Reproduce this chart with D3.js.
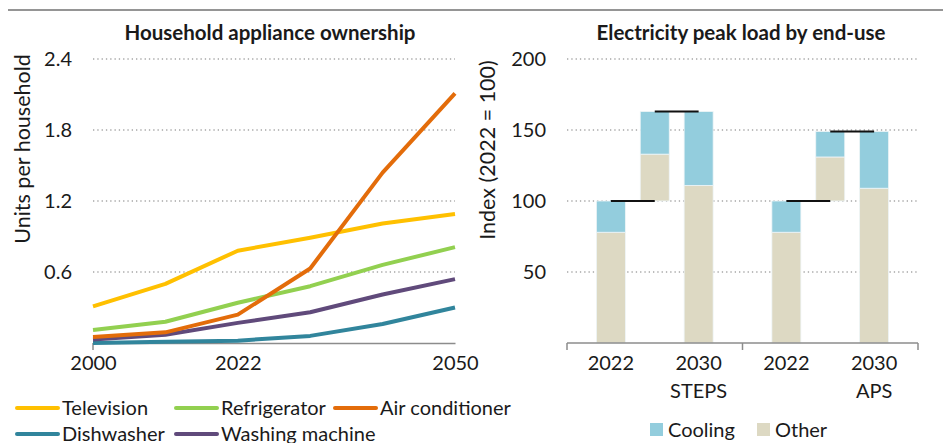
<!DOCTYPE html>
<html>
<head>
<meta charset="utf-8">
<script src="https://cdn.jsdelivr.net/npm/d3@7"></script>
<style>
  html, body { margin: 0; padding: 0; background: #fff; }
  svg { display: block; font-family: Lato, "Noto Sans", sans-serif; }
</style>
</head>
<body>
<svg id="chart" width="943" height="443"></svg>
<script>
// ---- Household appliance ownership (units per household) ----
const years = ["2000", "2010", "2022", "2030", "2040", "2050"];
const yearLabels = ["2000", "2022", "2050"];
const ownershipTicks = [0.6, 1.2, 1.8, 2.4];

const television     = [0.31, 0.50, 0.78, 0.89, 1.01, 1.09];
const refrigerator   = [0.11, 0.18, 0.34, 0.48, 0.66, 0.81];
const airConditioner = [0.05, 0.09, 0.24, 0.63, 1.44, 2.11];
const dishwasher     = [0.00, 0.01, 0.02, 0.06, 0.16, 0.30];
const washingMachine = [0.03, 0.07, 0.17, 0.26, 0.41, 0.54];

const applianceNames  = ["Television", "Refrigerator", "Air conditioner", "Dishwasher", "Washing machine"];
const applianceValues = [television, refrigerator, airConditioner, dishwasher, washingMachine];
const applianceColors = ["#FFC000", "#92D050", "#E36C0A", "#31859C", "#604A7B"];

// ---- Electricity peak load by end-use (index, 2022 = 100) ----
const scenarios = ["STEPS", "APS"];
const peakTicks = [50, 100, 150, 200];
const other2022   = [78, 78];
const cooling2022 = [22, 22];
const other2030   = [111, 109];
const cooling2030 = [52, 40];
const endUses = ["Cooling", "Other"];
const endUseColors = { Cooling: "#93CDDD", Other: "#DDD9C3" };

const svg = d3.select("#chart");
const gridColor = "#a6a6a6";
const axisColor = "#8c8c8c";
const textColor = "#1a1a1a";
const fontFamily = "Lato, 'Noto Sans', sans-serif";
const labelSize = 20;
const titleSize = 20.5;
const axisTitleSize = 21.5;

// frame rule across the top
svg.append("line")
  .attr("x1", 8).attr("x2", 943).attr("y1", 10).attr("y2", 10)
  .attr("stroke", "#959595").attr("stroke-width", 2);

// ================= Left panel =================
const L = { left: 93, right: 455, top: 59, bottom: 343 };
const xL = d3.scalePoint().domain(years).range([L.left, L.right]);
const yL = d3.scaleLinear().domain([0, 2.4]).range([L.bottom, L.top]);

const left = svg.append("g");

left.append("text")
  .attr("x", 270).attr("y", 40).attr("text-anchor", "middle")
  .attr("font-weight", "bold").attr("font-size", titleSize).attr("fill", textColor)
  .text("Household appliance ownership");

// gridlines
left.append("g").selectAll("line").data(ownershipTicks).join("line")
  .attr("x1", L.left).attr("x2", L.right)
  .attr("y1", d => yL(d)).attr("y2", d => yL(d))
  .attr("stroke", gridColor).attr("stroke-width", 1.5)
  .attr("stroke-dasharray", "1.3 3");

// y axis labels
left.append("g").attr("transform", `translate(${L.left},0)`)
  .call(d3.axisLeft(yL).tickValues(ownershipTicks).tickFormat(d3.format(".1f")).tickSize(0).tickPadding(0))
  .call(g => {
    g.select(".domain").remove();
    g.selectAll("text").attr("x", 72 - L.left).attr("font-size", labelSize).attr("fill", textColor)
      .attr("font-family", fontFamily);
  });

left.append("text")
  .attr("transform", `translate(30,149) rotate(-90)`)
  .attr("text-anchor", "middle").attr("font-size", axisTitleSize).attr("fill", textColor)
  .text("Units per household");

// x axis
left.append("g").attr("transform", `translate(0,${L.bottom})`)
  .call(d3.axisBottom(xL).tickValues(yearLabels).tickSize(0).tickPadding(13))
  .call(g => {
    g.select(".domain").attr("stroke", axisColor).attr("stroke-width", 1.5);
    g.selectAll("text").attr("font-size", labelSize).attr("fill", textColor)
      .attr("font-family", fontFamily);
  });
left.append("line")
  .attr("x1", xL("2000")).attr("x2", xL("2000"))
  .attr("y1", L.bottom).attr("y2", L.bottom + 7)
  .attr("stroke", axisColor).attr("stroke-width", 1.5);

// lines
const lineGen = d3.line().x((d, i) => xL(years[i])).y(d => yL(d));
const drawOrder = [3, 4, 1, 0, 2];
left.append("g").selectAll("path").data(drawOrder).join("path")
  .attr("d", k => lineGen(applianceValues[k]))
  .attr("fill", "none")
  .attr("stroke", k => applianceColors[k])
  .attr("stroke-width", 4)
  .attr("stroke-linejoin", "round");

// legend
const legendPos = [
  { x: 17, y: 408 }, { x: 176, y: 408 }, { x: 335, y: 408 },
  { x: 17, y: 434 }, { x: 176, y: 434 }
];
const legL = left.append("g").selectAll("g").data(applianceNames).join("g")
  .attr("transform", (d, i) => `translate(${legendPos[i].x},${legendPos[i].y})`);
legL.append("line")
  .attr("x1", 0).attr("x2", 41).attr("y1", 0).attr("y2", 0)
  .attr("stroke", (d, i) => applianceColors[i]).attr("stroke-width", 4)
  .attr("stroke-linecap", "round");
legL.append("text")
  .attr("x", 45).attr("y", 7).attr("font-size", labelSize).attr("fill", textColor)
  .text(d => d);

// ================= Right panel =================
const R = { left: 567, right: 918, top: 59, bottom: 343 };
const xGroup = d3.scaleBand().domain(scenarios).range([R.left, R.right]);
const barSlots = ["2022", "change", "2030"];
const xSlot = d3.scalePoint().domain(barSlots).range([0, xGroup.bandwidth()]).padding(1);
const barW = 29;
const yR = d3.scaleLinear().domain([0, 200]).range([R.bottom, R.top]);

const right = svg.append("g");

right.append("text")
  .attr("x", 741).attr("y", 40).attr("text-anchor", "middle")
  .attr("font-weight", "bold").attr("font-size", titleSize).attr("fill", textColor)
  .text("Electricity peak load by end-use");

right.append("g").selectAll("line").data(peakTicks).join("line")
  .attr("x1", R.left).attr("x2", R.right)
  .attr("y1", d => yR(d)).attr("y2", d => yR(d))
  .attr("stroke", gridColor).attr("stroke-width", 1.5)
  .attr("stroke-dasharray", "1.3 3");

right.append("g").attr("transform", `translate(${R.left},0)`)
  .call(d3.axisLeft(yR).tickValues(peakTicks).tickSize(0).tickPadding(0))
  .call(g => {
    g.select(".domain").remove();
    g.selectAll("text").attr("x", 546 - R.left).attr("font-size", labelSize).attr("fill", textColor)
      .attr("font-family", fontFamily);
  });

right.append("text")
  .attr("transform", `translate(495,150) rotate(-90)`)
  .attr("text-anchor", "middle").attr("font-size", axisTitleSize).attr("fill", textColor)
  .text("Index (2022 = 100)");

// bar segments per scenario: 2022 stack, change from 2022, 2030 stack
const segments = [];
scenarios.forEach((s, i) => {
  const dOther = other2030[i] - other2022[i];
  const dCool = cooling2030[i] - cooling2022[i];
  const base = other2022[i] + cooling2022[i];
  segments.push({ s, slot: "2022", use: "Other", y0: 0, y1: other2022[i] });
  segments.push({ s, slot: "2022", use: "Cooling", y0: other2022[i], y1: base });
  segments.push({ s, slot: "change", use: "Other", y0: base, y1: base + dOther });
  segments.push({ s, slot: "change", use: "Cooling", y0: base + dOther, y1: base + dOther + dCool });
  segments.push({ s, slot: "2030", use: "Other", y0: 0, y1: other2030[i] });
  segments.push({ s, slot: "2030", use: "Cooling", y0: other2030[i], y1: other2030[i] + cooling2030[i] });
});
const cx = (s, slot) => xGroup(s) + xSlot(slot);

right.append("g").selectAll("rect").data(segments).join("rect")
  .attr("x", d => cx(d.s, d.slot) - barW / 2)
  .attr("width", barW)
  .attr("y", d => yR(d.y1))
  .attr("height", d => yR(d.y0) - yR(d.y1))
  .attr("fill", d => endUseColors[d.use])
  .attr("stroke", "#eef5f7").attr("stroke-width", 0.8);

// connector lines between consecutive bar tops
const connectors = [];
scenarios.forEach((s, i) => {
  const base = other2022[i] + cooling2022[i];
  const total = other2030[i] + cooling2030[i];
  connectors.push({ s, from: "2022", to: "change", v: base });
  connectors.push({ s, from: "change", to: "2030", v: total });
});
right.append("g").selectAll("line").data(connectors).join("line")
  .attr("x1", d => cx(d.s, d.from)).attr("x2", d => cx(d.s, d.to))
  .attr("y1", d => yR(d.v)).attr("y2", d => yR(d.v))
  .attr("stroke", "#111").attr("stroke-width", 2);

// x axis with group separators
right.append("line")
  .attr("x1", R.left).attr("x2", R.right).attr("y1", R.bottom).attr("y2", R.bottom)
  .attr("stroke", axisColor).attr("stroke-width", 1.5);
const sepX = [R.left, ...scenarios.map(s => xGroup(s) + xGroup.bandwidth())];
right.append("g").selectAll("line").data(sepX).join("line")
  .attr("x1", d => d).attr("x2", d => d).attr("y1", R.bottom).attr("y2", R.bottom + 7)
  .attr("stroke", axisColor).attr("stroke-width", 1.5);

const xlab = right.append("g").attr("font-size", labelSize).attr("fill", textColor).attr("text-anchor", "middle");
scenarios.forEach(s => {
  xlab.append("text").attr("x", cx(s, "2022")).attr("y", 370).text("2022");
  xlab.append("text").attr("x", cx(s, "2030")).attr("y", 370).text("2030");
  xlab.append("text").attr("x", cx(s, "2030")).attr("y", 398).text(s);
});

// legend
const legendR = [{ x: 650 }, { x: 757 }];
const legR = right.append("g").selectAll("g").data(endUses).join("g")
  .attr("transform", (d, i) => `translate(${legendR[i].x},423)`);
legR.append("rect").attr("width", 13).attr("height", 13).attr("fill", d => endUseColors[d]);
legR.append("text").attr("x", 18).attr("y", 13.5).attr("font-size", labelSize).attr("fill", textColor)
  .text(d => d);
</script>
</body>
</html>
